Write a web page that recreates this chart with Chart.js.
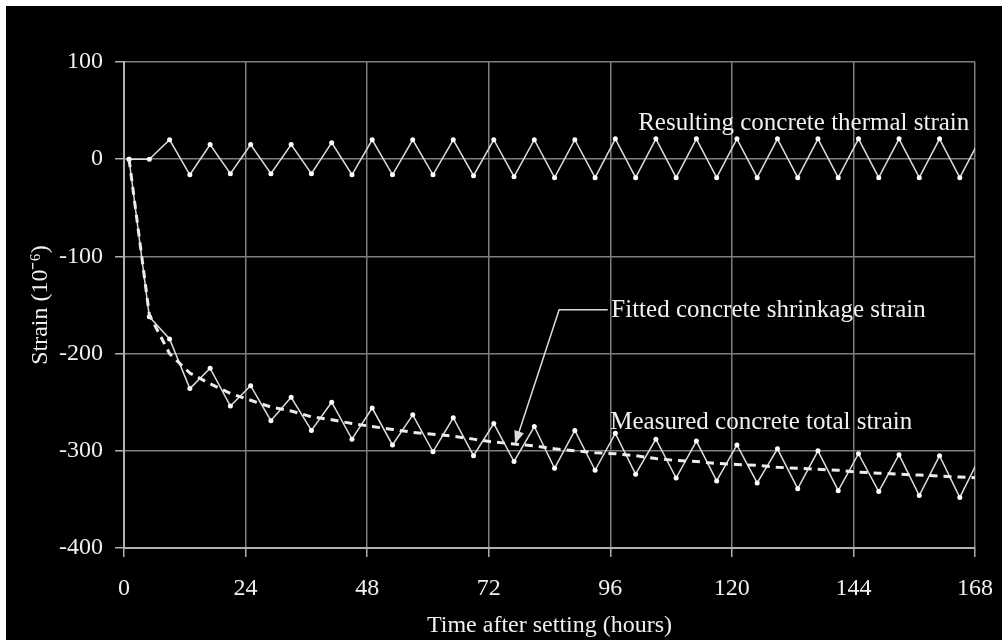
<!DOCTYPE html>
<html>
<head>
<meta charset="utf-8">
<script src="https://cdn.jsdelivr.net/npm/chart.js@4.4.0/dist/chart.umd.min.js"></script>
<style>
  html, body { margin: 0; padding: 0; background: #fff; }
  #wrap { position: absolute; left: 6px; top: 6px; width: 996px; height: 634px; background: #000; }
</style>
</head>
<body>
<div id="wrap"><canvas id="chart-area" width="996" height="634"></canvas></div>
<script>
// Hours after setting (one reading every 4 hours)
let hours = [1, 5, 9, 13, 17, 21, 25, 29, 33, 37, 41, 45, 49, 53, 57, 61, 65, 69, 73, 77, 81, 85,
  89, 93, 97, 101, 105, 109, 113, 117, 121, 125, 129, 133, 137, 141, 145, 149, 153, 157, 161, 165, 169];

// Strain values (10^-6)
let thermalStrain = [0, 0, 20, -16, 15, -15, 15, -15, 15, -15, 17, -16, 20, -16, 20, -16, 20, -17, 20, -18, 20, -19,
  20, -19, 21, -19, 21, -19, 21, -19, 21, -19, 21, -19, 21, -19, 21, -19, 21, -19, 21, -19, 21];
let measuredStrain = [0, -162, -185, -236, -215, -254, -233, -269, -245, -279, -250, -288, -256, -294, -263, -301,
  -266, -305, -272, -311, -275, -318, -279, -320, -282, -324, -288, -328, -290, -331, -294, -333, -298, -339,
  -300, -341, -303, -342, -304, -346, -305, -348, -306];
let fittedStrain = [0, -160, -200, -220, -231, -241, -248, -255, -259, -265, -268, -272, -275, -278, -281, -283,
  -285, -288, -291, -293, -295, -298, -300, -302, -303, -305, -308, -310, -311, -313, -314, -315, -317, -318,
  -319, -320, -322, -323, -324, -325, -326, -327, -328];

let xTicks = [0, 24, 48, 72, 96, 120, 144, 168];
let yTicks = [-400, -300, -200, -100, 0, 100];

let fontFamily = "'Liberation Serif', 'Times New Roman', serif";
let textColor = '#f0f0f0';
let lineColor = '#dcdcdc';

// Text labels placed in data units, plus the leader arrow
let notes = [
  { text: 'Resulting concrete thermal strain', x: 101.5, y: 30 },
  { text: 'Fitted concrete shrinkage strain', x: 96.2, y: -162 },
  { text: 'Measured concrete total strain', x: 96.0, y: -278 }
];
let arrowPath = [[95.5, -155], [85.9, -155], [77.2, -293]];

function toPoints(values) {
  return hours.map(function (h, i) { return { x: h, y: values[i] }; });
}

let notesPlugin = {
  id: 'notes',
  afterDatasetsDraw: function (chart) {
    let ctx = chart.ctx;
    let xs = chart.scales.x, ys = chart.scales.y;
    ctx.save();
    ctx.fillStyle = textColor;
    ctx.font = '25px ' + fontFamily;
    ctx.textBaseline = 'alphabetic';
    ctx.textAlign = 'left';
    notes.forEach(function (n) {
      ctx.fillText(n.text, xs.getPixelForValue(n.x), ys.getPixelForValue(n.y));
    });
    // leader line
    let pts = arrowPath.map(function (p) { return [xs.getPixelForValue(p[0]), ys.getPixelForValue(p[1])]; });
    ctx.strokeStyle = lineColor;
    ctx.lineWidth = 1.5;
    ctx.beginPath();
    ctx.moveTo(pts[0][0], pts[0][1]);
    for (let i = 1; i < pts.length; i++) ctx.lineTo(pts[i][0], pts[i][1]);
    ctx.stroke();
    // arrow head
    let a = pts[pts.length - 2], b = pts[pts.length - 1];
    let ang = Math.atan2(b[1] - a[1], b[0] - a[0]);
    let len = 13, half = 5;
    ctx.fillStyle = lineColor;
    ctx.beginPath();
    ctx.moveTo(b[0], b[1]);
    ctx.lineTo(b[0] - len * Math.cos(ang) + half * Math.sin(ang), b[1] - len * Math.sin(ang) - half * Math.cos(ang));
    ctx.lineTo(b[0] - len * Math.cos(ang) - half * Math.sin(ang), b[1] - len * Math.sin(ang) + half * Math.cos(ang));
    ctx.closePath();
    ctx.fill();
    ctx.restore();
  }
};

let ctx = document.getElementById('chart-area').getContext('2d');
let strainChart = new Chart(ctx, {
  type: 'line',
  data: {
    datasets: [{
      label: 'Fitted concrete shrinkage strain',
      data: toPoints(fittedStrain),
      borderColor: '#ececec',
      borderWidth: 3,
      borderDash: [8, 6],
      pointRadius: 0,
      tension: 0
    }, {
      label: 'Resulting concrete thermal strain',
      data: toPoints(thermalStrain),
      borderColor: lineColor,
      borderWidth: 1.5,
      pointRadius: 2.5,
      pointBackgroundColor: '#ffffff',
      pointBorderWidth: 0,
      tension: 0
    }, {
      label: 'Measured concrete total strain',
      data: toPoints(measuredStrain),
      borderColor: lineColor,
      borderWidth: 1.5,
      pointRadius: 2.5,
      pointBackgroundColor: '#ffffff',
      pointBorderWidth: 0,
      tension: 0
    }]
  },
  options: {
    responsive: false,
    animation: false,
    layout: { padding: { left: 0, right: 27, top: 56, bottom: 0 } },
    plugins: {
      legend: { display: false },
      tooltip: { enabled: false }
    },
    scales: {
      x: {
        type: 'linear',
        min: 0,
        max: 168,
        afterBuildTicks: function (axis) { axis.ticks = xTicks.map(function (v) { return { value: v }; }); },
        afterFit: function (axis) { axis.height = 92; axis.paddingLeft = 0; axis.paddingRight = 0; },
        grid: { color: '#7e7e7e', lineWidth: 1.5, tickLength: 9, tickColor: '#b0b0b0' },
        border: { color: '#b0b0b0', width: 2 },
        ticks: { color: textColor, font: { family: fontFamily, size: 24 }, padding: 17, maxRotation: 0, autoSkip: false },
        title: {
          display: true,
          text: 'Time after setting (hours)',
          color: textColor,
          font: { family: fontFamily, size: 24 },
          padding: { top: 0, bottom: 0 }
        }
      },
      y: {
        min: -400,
        max: 100,
        afterBuildTicks: function (axis) { axis.ticks = yTicks.map(function (v) { return { value: v }; }); },
        afterFit: function (axis) { axis.width = 118; axis.paddingTop = 0; axis.paddingBottom = 0; },
        grid: { color: '#7e7e7e', lineWidth: 1.5, tickLength: 9, tickColor: '#b0b0b0' },
        border: { color: '#b0b0b0', width: 2 },
        ticks: { color: textColor, font: { family: fontFamily, size: 24 }, padding: 12 },
        title: {
          display: true,
          text: 'Strain (10\u207B\u2076)',
          color: textColor,
          font: { family: fontFamily, size: 24 },
          padding: { top: 20, bottom: 0 }
        }
      }
    }
  },
  plugins: [notesPlugin]
});
</script>
</body>
</html>
